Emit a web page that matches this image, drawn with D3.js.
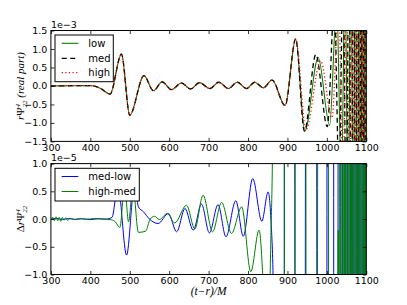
<!DOCTYPE html>
<html><head><meta charset="utf-8">
<script src="https://cdn.jsdelivr.net/npm/d3@7"></script>
<style>body{margin:0;background:#fff} svg{display:block}</style>
</head><body><svg id="c" width="407" height="305"></svg>
<script>
const xTicks=[300,400,500,600,700,800,900,1000,1100];
const topYTicks=[-1.5,-1.0,-0.5,0.0,0.5,1.0,1.5];
const botYTicks=[-1.0,-0.5,0.0,0.5,1.0];
const topLegend=["low","med","high"];
const botLegend=["med-low","high-med"];
// top panel (units 1e-3): shared part, then each resolution's tail
const commonTop=[[300,0.00],[340,0.005],[380,0.01],[405,0.005],[425,-0.06],[450,-0.22],[479,0.86],[500,-0.79],[536,0.28],[560,-0.13],[582,0.11],[606,-0.10],[631,0.08],[654,-0.08],[677,0.09],[703,-0.07],[726,0.10],[750,-0.07],[773,0.10],[796,-0.07],[817,0.10],[839,-0.05],[861,0.16],[894,-0.53],[921,1.27]];
const lowTail=[[944,-1.22],[978,0.77],[1007,-1.06],[1025,2.2],[1037,-2.6],[1046,3.0],[1054,-3.4],[1061,3.8],[1067,-4.2],[1072,4.6],[1077,-5],[1082,5],[1086,-5.5],[1090,5.5],[1094,-6],[1098,6],[1102,-6]];
const medTail=[[943,-1.22],[972,0.85],[1001,-1.10],[1019,2.2],[1031,-2.6],[1041,3.0],[1049,-3.4],[1056,3.8],[1062,-4.2],[1068,4.6],[1073,-5],[1078,5],[1083,-5.5],[1087,5.5],[1091,-6],[1095,6],[1099,-6],[1103,6]];
const highTail=[[947,-1.18],[984,0.68],[1013,-0.86],[1030,2.2],[1041,-2.6],[1050,3.0],[1058,-3.4],[1064,3.8],[1070,-4.2],[1075,4.6],[1080,-5],[1085,5],[1089,-5.5],[1093,5.5],[1097,-6],[1101,6]];
// bottom panel (units 1e-5)
const medLow=[[300,0.00],[315,0.01],[330,-0.01],[345,0.01],[360,-0.005],[380,0.005],[400,-0.01],[420,0.005],[440,0.0],[455,0.03],[470,0.6],[492,-0.65],[512,0.6],[522,0.22],[535,0.13],[550,0.0],[572,-0.08],[598,0.10],[619,-0.23],[640,0.19],[661,-0.20],[682,0.27],[702,-0.25],[724,0.26],[744,-0.32],[769,0.33],[788,-0.31],[812,0.73],[835,-0.04],[851,0.49],[858,0.0],[864,-1.2],[880,-40],[908,60],[932,-80],[960,90],[990,-100],[1011,110],[1024,-120],[1033,130],[1038,-140],[1042,140],[1046,-150],[1050,150],[1054,-160],[1058,160],[1061,-170],[1064,170],[1067,-180],[1070,180],[1073,-190],[1076,190],[1079,-200],[1082,200],[1085,-200],[1088,200],[1091,-200],[1094,200],[1097,-200],[1100,200],[1103,-200]];
const highMed=[[300,0.0],[305,0.03],[309,-0.03],[313,0.04],[317,-0.03],[321,0.03],[325,-0.04],[329,0.03],[333,-0.02],[337,0.02],[342,-0.02],[350,0.01],[360,-0.01],[375,0.01],[390,-0.005],[410,0.01],[430,0.0],[450,-0.01],[462,-0.04],[475,-0.15],[487,0.6],[497,-0.05],[508,0.6],[522,-0.24],[540,-0.22],[552,0.0],[563,0.05],[575,-0.01],[595,0.10],[614,-0.07],[644,0.25],[665,-0.18],[686,0.43],[710,-0.23],[733,0.30],[758,-0.26],[784,0.22],[807,-0.95],[828,-0.20],[851,-2.5],[858,-0.3],[862,1.2],[880,40],[908,-60],[933,80],[962,-90],[992,100],[1016,-100],[1029,-0.2],[1031,-100],[1034,130],[1037,-140],[1040,140],[1043,-150],[1046,150],[1049,-160],[1052,160],[1055,-170],[1058,170],[1061,-180],[1064,180],[1067,-190],[1070,190],[1073,-200],[1076,200],[1079,-200],[1082,200],[1085,-200],[1088,200],[1091,-200],[1094,200],[1097,-200],[1100,200],[1103,-200]];

const svg=d3.select("#c");
const L=50.9,R=366.3;
const panels=[{top:30.5,bot:141.4},{top:163.6,bot:274.5}];
const x=d3.scaleLinear([300,1100],[L,R]);
const yT=d3.scaleLinear([-1.5,1.5],[panels[0].bot,panels[0].top]);
const yB=d3.scaleLinear([-1,1],[panels[1].bot,panels[1].top]);
const fmt=d3.format(".1f");
const FONT="DejaVu Sans";
const TS=3.5;

const defs=svg.append("defs");
panels.forEach((p,i)=>{
  defs.append("clipPath").attr("id","clip"+i).append("rect")
    .attr("x",L).attr("y",p.top).attr("width",R-L).attr("height",p.bot-p.top);
});

function drawAxes(p,y,yt){
  const g=svg.append("g");
  const ax=g.append("g").attr("transform",`translate(0,${p.bot})`)
    .call(d3.axisBottom(x).tickValues(xTicks).tickFormat(d3.format("d")).tickSize(-TS).tickSizeOuter(0).tickPadding(2.5));
  const at=g.append("g").attr("transform",`translate(0,${p.top})`)
    .call(d3.axisTop(x).tickValues(xTicks).tickFormat(()=>"").tickSize(-TS).tickSizeOuter(0));
  const ay=g.append("g").attr("transform",`translate(${L},0)`)
    .call(d3.axisLeft(y).tickValues(yt).tickFormat(fmt).tickSize(-TS).tickSizeOuter(0).tickPadding(3.5));
  const ar=g.append("g").attr("transform",`translate(${R},0)`)
    .call(d3.axisRight(y).tickValues(yt).tickFormat(()=>"").tickSize(-TS).tickSizeOuter(0));
  [ax,at,ay,ar].forEach(a=>{
    a.select(".domain").remove();
    a.selectAll("text").attr("font-family",FONT).attr("font-size",9.5).attr("fill","#000");
    a.selectAll("line").attr("stroke","#000").attr("stroke-width",0.8);
  });
  return g;
}

function drawLine(pts,y,clip,color,dash,w){
  const line=d3.line().x(d=>x(d[0])).y(d=>y(d[1])).curve(d3.curveMonotoneX);
  svg.append("path").datum(pts).attr("d",line).attr("fill","none")
    .attr("stroke",color).attr("stroke-width",w||1.1)
    .attr("stroke-dasharray",dash||null).attr("clip-path",`url(#${clip})`);
}

// top panel lines
drawLine(commonTop.concat(lowTail),yT,"clip0","#008000",null,1.1);
drawLine(commonTop.concat(medTail),yT,"clip0","#000000","5,3.5",1.3);
drawLine(commonTop.concat(highTail),yT,"clip0","#ff0000","1.2,2.4",1.3);
// bottom panel lines
drawLine(medLow,yB,"clip1","#0000ff",null,1);
drawLine(highMed,yB,"clip1","#008000",null,1);

drawAxes(panels[0],yT,topYTicks);
drawAxes(panels[1],yB,botYTicks);

// frames
panels.forEach(p=>{
  svg.append("rect").attr("x",L).attr("y",p.top).attr("width",R-L).attr("height",p.bot-p.top)
    .attr("fill","none").attr("stroke","#000").attr("stroke-width",1);
});

// offset texts
svg.append("text").attr("x",L).attr("y",panels[0].top-2.2).attr("font-family",FONT).attr("font-size",9.5).text("1e\u22123");
svg.append("text").attr("x",L).attr("y",panels[1].top-2.2).attr("font-family",FONT).attr("font-size",9.5).text("1e\u22125");

// legends
function legend(x0,y0,w,h,rows,labels,styles){
  svg.append("rect").attr("x",x0).attr("y",y0).attr("width",w).attr("height",h)
    .attr("fill","#fff").attr("stroke","#000").attr("stroke-width",1);
  labels.forEach((lab,i)=>{
    const s=styles[i];
    svg.append("line").attr("x1",61.7).attr("x2",78.3).attr("y1",rows[i]).attr("y2",rows[i])
      .attr("stroke",s.c).attr("stroke-width",s.w).attr("stroke-dasharray",s.d||null);
    svg.append("text").attr("x",88.3).attr("y",rows[i]+3.6).attr("font-family",FONT).attr("font-size",10).text(lab);
  });
}
legend(55,35,58.3,46.7,[43.3,58.3,72.7],topLegend,[{c:"#008000",w:1.1},{c:"#000",w:1.3,d:"5,3.5"},{c:"#ff0000",w:1.3,d:"1.2,2.4"}]);
legend(55,168.3,84.3,32.7,[176.5,191.5],botLegend,[{c:"#0000ff",w:1},{c:"#008000",w:1}]);

// axis labels
const MF="Liberation Serif";
const yl1=svg.append("text").attr("transform","translate(24,86) rotate(-90)").attr("text-anchor","middle")
  .attr("font-family",MF).attr("font-size",11).attr("font-style","italic");
yl1.append("tspan").text("r");
yl1.append("tspan").attr("font-style","normal").text("\u03A8");
yl1.append("tspan").attr("font-size",7).attr("dy",-4.5).text("4");
yl1.append("tspan").attr("font-size",7).attr("dx",-3.5).attr("dy",7.5).text("22");
yl1.append("tspan").attr("dy",-3).text(" (real part)");

const yl2=svg.append("text").attr("transform","translate(24,219) rotate(-90)").attr("text-anchor","middle")
  .attr("font-family",MF).attr("font-size",11).attr("font-style","italic");
yl2.append("tspan").attr("font-style","normal").text("\u0394");
yl2.append("tspan").text("r");
yl2.append("tspan").attr("font-style","normal").text("\u03A8");
yl2.append("tspan").attr("font-size",7).attr("dy",-4.5).text("4");
yl2.append("tspan").attr("font-size",7).attr("dx",-3.5).attr("dy",7.5).text("22");

svg.append("text").attr("x",(L+R)/2).attr("y",295).attr("text-anchor","middle")
  .attr("font-family",MF).attr("font-size",11.5).attr("font-style","italic").text("(t\u2212r)/M");
</script></body></html>
